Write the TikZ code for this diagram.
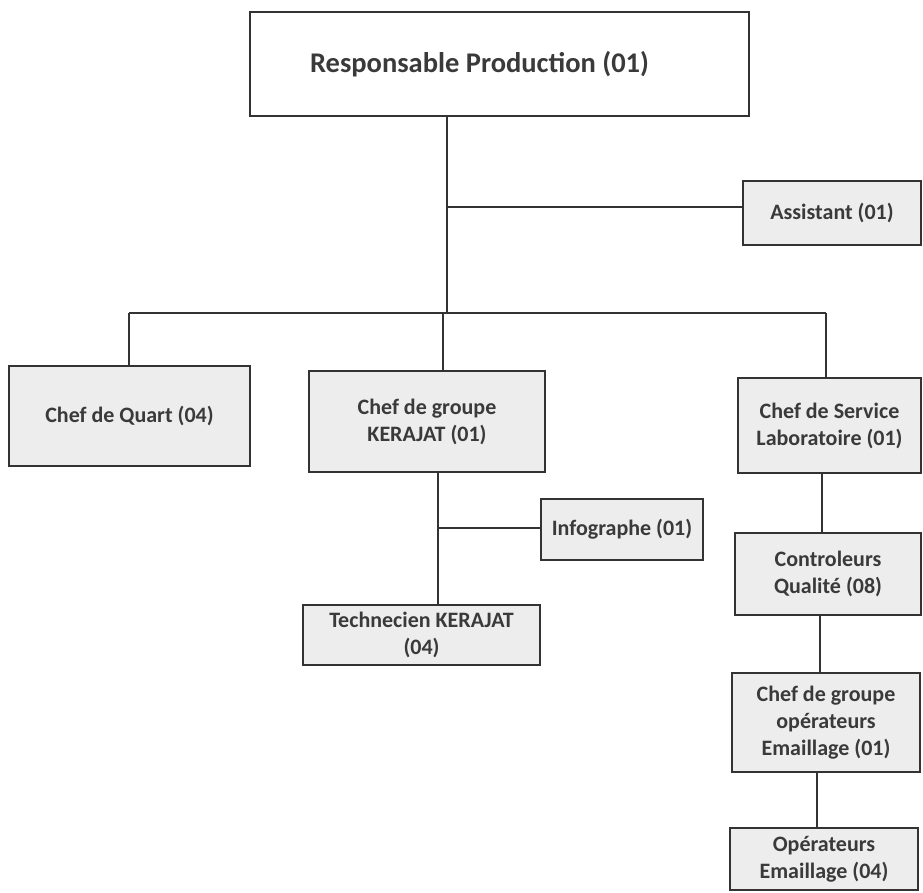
\documentclass[tikz,border=0pt]{standalone}
\usepackage{fontspec}
\setmainfont{Carlito}
\definecolor{ink}{HTML}{3A3A3A}
\definecolor{boxfill}{HTML}{EDEDED}
\definecolor{linec}{HTML}{333333}
\begin{document}
\begin{tikzpicture}[x=1pt,y=-1pt,
  box/.style={draw=linec,line width=2pt,fill=boxfill,inner sep=0pt,align=center,
    text=ink,font=\bfseries\fontsize{22}{27}\selectfont},
  conn/.style={draw=linec,line width=2.5pt}]
\useasboundingbox (0,0) rectangle (923,892);
\fill[white] (0,0) rectangle (923,892);
% boxes
\node[box,fill=white,minimum width=499pt,minimum height=104pt,font=\bfseries\fontsize{28.5}{33}\selectfont] (top) at (499.5,64) {Responsable Production (01)\hspace{40pt}};
\node[box,minimum width=178pt,minimum height=64pt] (assist) at (832,213) {Assistant (01)};
\node[box,minimum width=241pt,minimum height=100pt] (quart) at (129.5,416) {Chef de Quart (04)};
\node[box,minimum width=236pt,minimum height=101pt] (kerajat) at (427,421.5) {Chef de groupe\\KERAJAT (01)};
\node[box,minimum width=183pt,minimum height=95pt] (service) at (829.5,425.5) {Chef de Service\\Laboratoire (01)};
\node[box,minimum width=162pt,minimum height=61pt] (info) at (622,529.5) {Infographe (01)};
\node[box,minimum width=237pt,minimum height=60pt] (tech) at (421.5,635) {Technecien KERAJAT\\(04)};
\node[box,minimum width=186pt,minimum height=82pt] (ctrl) at (828,574) {Controleurs\\Qualité (08)};
\node[box,minimum width=188pt,minimum height=99pt] (chefop) at (826,722.5) {Chef de groupe\\opérateurs\\Emaillage (01)};
\node[box,minimum width=188pt,minimum height=62pt] (oper) at (824,859) {Opérateurs\\Emaillage (04)};
% junction coordinates
\coordinate (tr) at (447,313);
\coordinate (ja) at (447,207);
\coordinate (bl) at (129,313);
\coordinate (bm) at (443,313);
\coordinate (br) at (826,313);
\coordinate (k) at (438,528);
\coordinate (c1) at (822,0);
\coordinate (c2) at (820,0);
\coordinate (c3) at (817,0);
% connectors
\draw[conn] (top.south -| tr) -- (tr);
\draw[conn] (ja) -- (assist.west |- ja);
\draw[conn] (bl) -- (br);
\draw[conn] (bl) -- (quart.north -| bl);
\draw[conn] (bm) -- (kerajat.north -| bm);
\draw[conn] (br) -- (service.north -| br);
\draw[conn] (kerajat.south -| k) -- (tech.north -| k);
\draw[conn] (k) -- (info.west |- k);
\draw[conn] (service.south -| c1) -- (ctrl.north -| c1);
\draw[conn] (ctrl.south -| c2) -- (chefop.north -| c2);
\draw[conn] (chefop.south -| c3) -- (oper.north -| c3);
\end{tikzpicture}
\end{document}
